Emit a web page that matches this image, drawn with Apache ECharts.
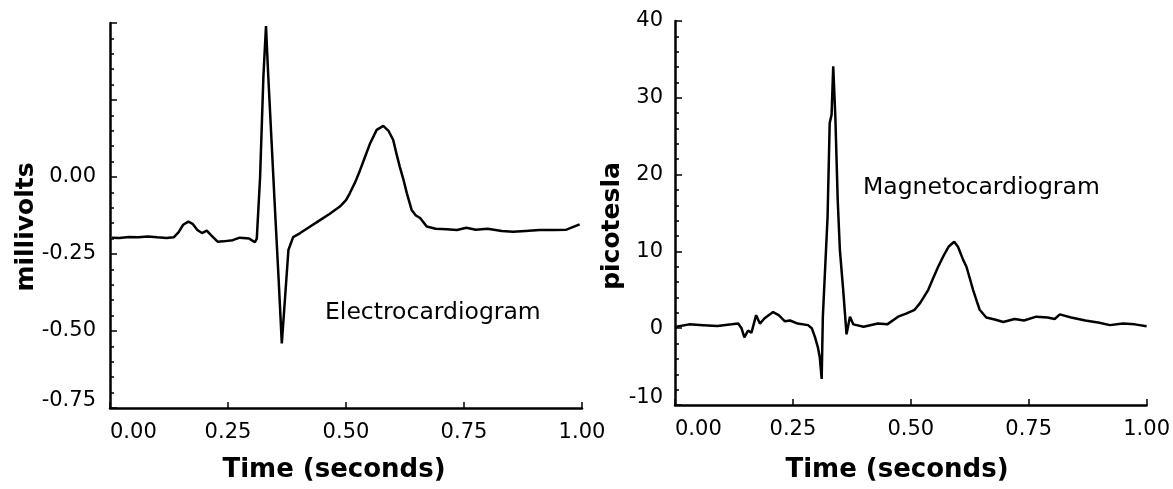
<!DOCTYPE html>
<html>
<head>
<meta charset="utf-8">
<script src="https://cdn.jsdelivr.net/npm/echarts@6/dist/echarts.min.js"></script>
<style>html,body{margin:0;padding:0;background:#fff;}#c{width:1173px;height:489px;}</style>
</head>
<body>
<div id="c"></div>
<script>
// Electrocardiogram (left panel)
var ecgTime = [0.004,0.02,0.04,0.06,0.08,0.10,0.12,0.135,0.145,0.155,0.166,0.175,0.185,0.195,0.205,0.215,0.228,0.24,0.26,0.275,0.295,0.307,0.311,0.318,0.325,0.3305,0.335,0.3425,0.3496,0.357,0.364,0.371,0.378,0.388,0.403,0.42,0.445,0.465,0.487,0.50,0.508,0.52,0.53,0.541,0.551,0.565,0.579,0.59,0.60,0.607,0.614,0.622,0.629,0.639,0.648,0.657,0.671,0.69,0.713,0.735,0.755,0.775,0.80,0.83,0.854,0.88,0.91,0.94,0.967,0.995];
var ecgMillivolts = [-0.197,-0.198,-0.195,-0.196,-0.193,-0.196,-0.198,-0.196,-0.18,-0.155,-0.145,-0.152,-0.172,-0.182,-0.174,-0.19,-0.21,-0.209,-0.205,-0.197,-0.2,-0.212,-0.2,0.0,0.326,0.49,0.337,0.109,-0.107,-0.324,-0.54,-0.389,-0.237,-0.195,-0.182,-0.165,-0.14,-0.12,-0.096,-0.075,-0.053,-0.015,0.023,0.068,0.109,0.153,0.166,0.15,0.12,0.075,0.033,-0.01,-0.053,-0.107,-0.125,-0.133,-0.161,-0.168,-0.17,-0.172,-0.165,-0.171,-0.168,-0.175,-0.178,-0.175,-0.172,-0.172,-0.171,-0.154];
// Magnetocardiogram (right panel)
var mcgTime = [0.003,0.03,0.06,0.09,0.12,0.134,0.141,0.147,0.155,0.162,0.172,0.18,0.19,0.208,0.22,0.233,0.244,0.26,0.282,0.29,0.297,0.303,0.307,0.311,0.3135,0.3185,0.3235,0.328,0.332,0.3355,0.34,0.345,0.3496,0.3566,0.3637,0.371,0.378,0.40,0.43,0.45,0.473,0.49,0.508,0.52,0.537,0.548,0.558,0.57,0.58,0.592,0.60,0.611,0.618,0.625,0.632,0.64,0.646,0.66,0.68,0.696,0.72,0.74,0.766,0.79,0.805,0.816,0.84,0.87,0.90,0.922,0.95,0.975,1.0];
var mcgPicotesla = [0.2,0.5,0.4,0.3,0.5,0.6,0.0,-1.2,-0.3,-0.6,1.7,0.6,1.3,2.1,1.7,0.9,1.0,0.6,0.4,0.0,-1.2,-2.5,-3.8,-6.6,1.5,8,14.5,26.7,27.8,34.1,27.5,16.7,10.2,5.0,-0.8,1.5,0.5,0.2,0.6,0.5,1.5,1.9,2.4,3.3,5.0,6.6,8.0,9.5,10.6,11.25,10.6,8.9,8.0,6.5,5.0,3.5,2.4,1.4,1.1,0.8,1.2,1.0,1.5,1.4,1.2,1.8,1.4,1.0,0.7,0.4,0.6,0.5,0.25];

var xTitle = 'Time (seconds)';
var ecgYTitle = 'millivolts';
var mcgYTitle = 'picotesla';
var ecgLabel = 'Electrocardiogram';
var mcgLabel = 'Magnetocardiogram';

function zip(a, b) { return a.map(function (v, i) { return [v, b[i]]; }); }

var FONT = 'DejaVu Sans';
var axisLineStyle = { color: '#000', width: 2.5 };
var minRich = { lo: { color: '#000', fontFamily: FONT, fontSize: 21, padding: [0, 0, 14, 0] } };

function xAxisCfg(gi) {
  return {
    type: 'value', gridIndex: gi, min: 0, max: 1, interval: 0.25,
    axisLine: { show: true, onZero: false, lineStyle: axisLineStyle },
    axisTick: { show: true, inside: true, length: 6, lineStyle: { color: '#000', width: 1.5 } },
    minorTick: { show: false },
    splitLine: { show: false },
    axisLabel: {
      color: '#000', fontFamily: FONT, fontSize: 21, margin: 14,
      alignMinLabel: 'left',
      formatter: function (v) { return v.toFixed(2); }
    }
  };
}

var option = {
  animation: false,
  backgroundColor: '#fff',
  grid: [
    { left: 110, right: 591, top: 23, bottom: 81, containLabel: false },
    { left: 675, right: 26, top: 21, bottom: 84, containLabel: false }
  ],
  xAxis: [xAxisCfg(0), xAxisCfg(1)],
  yAxis: [
    {
      type: 'value', gridIndex: 0, min: -0.75, max: 0.5, interval: 0.25,
      axisLine: { show: true, onZero: false, lineStyle: axisLineStyle },
      axisTick: { show: true, inside: true, length: 7, lineStyle: { color: '#000', width: 1.5 } },
      minorTick: { show: true, splitNumber: 5, length: 4, lineStyle: { color: '#000', width: 1.5 } },
      splitLine: { show: false }, minorSplitLine: { show: false },
      axisLabel: {
        color: '#000', fontFamily: FONT, fontSize: 21, margin: 14,
        rich: minRich,
        formatter: function (v) {
          if (v > 0.001) return '';
          var s = Math.abs(v) < 1e-9 ? '0.00' : v.toFixed(2);
          return v < -0.74 ? '{lo|' + s + '}' : s;
        }
      }
    },
    {
      type: 'value', gridIndex: 1, min: -10, max: 40, interval: 10,
      axisLine: { show: true, onZero: false, lineStyle: axisLineStyle },
      axisTick: { show: true, inside: true, length: 7, lineStyle: { color: '#000', width: 1.5 } },
      minorTick: { show: true, splitNumber: 5, length: 4, lineStyle: { color: '#000', width: 1.5 } },
      splitLine: { show: false }, minorSplitLine: { show: false },
      axisLabel: {
        color: '#000', fontFamily: FONT, fontSize: 21, margin: 12,
        rich: minRich,
        formatter: function (v) { return v <= -10 ? '{lo|' + v + '}' : String(v); }
      }
    }
  ],
  series: [
    {
      type: 'line', xAxisIndex: 0, yAxisIndex: 0, data: zip(ecgTime, ecgMillivolts),
      showSymbol: false, symbol: 'none', lineStyle: { color: '#000', width: 2.5 }
    },
    {
      type: 'line', xAxisIndex: 1, yAxisIndex: 1, data: zip(mcgTime, mcgPicotesla),
      showSymbol: false, symbol: 'none', lineStyle: { color: '#000', width: 2.5 }
    }
  ],
  graphic: [
    { type: 'text', x: 334, y: 470, style: { text: xTitle, font: 'bold 26px "DejaVu Sans"', fill: '#000', textAlign: 'center', textVerticalAlign: 'middle' } },
    { type: 'text', x: 897, y: 470, style: { text: xTitle, font: 'bold 26px "DejaVu Sans"', fill: '#000', textAlign: 'center', textVerticalAlign: 'middle' } },
    { type: 'text', x: 26, y: 227, rotation: Math.PI / 2, style: { text: ecgYTitle, font: 'bold 25px "DejaVu Sans"', fill: '#000', textAlign: 'center', textVerticalAlign: 'middle' } },
    { type: 'text', x: 612, y: 226, rotation: Math.PI / 2, style: { text: mcgYTitle, font: 'bold 25px "DejaVu Sans"', fill: '#000', textAlign: 'center', textVerticalAlign: 'middle' } },
    { type: 'text', x: 325, y: 313, style: { text: ecgLabel, font: '23.5px "DejaVu Sans"', fill: '#000', textAlign: 'left', textVerticalAlign: 'middle' } },
    { type: 'text', x: 863, y: 188, style: { text: mcgLabel, font: '23.5px "DejaVu Sans"', fill: '#000', textAlign: 'left', textVerticalAlign: 'middle' } }
  ]
};

var chart = echarts.init(document.getElementById('c'), null, { renderer: 'canvas' });
chart.setOption(option);
</script>
</body>
</html>
